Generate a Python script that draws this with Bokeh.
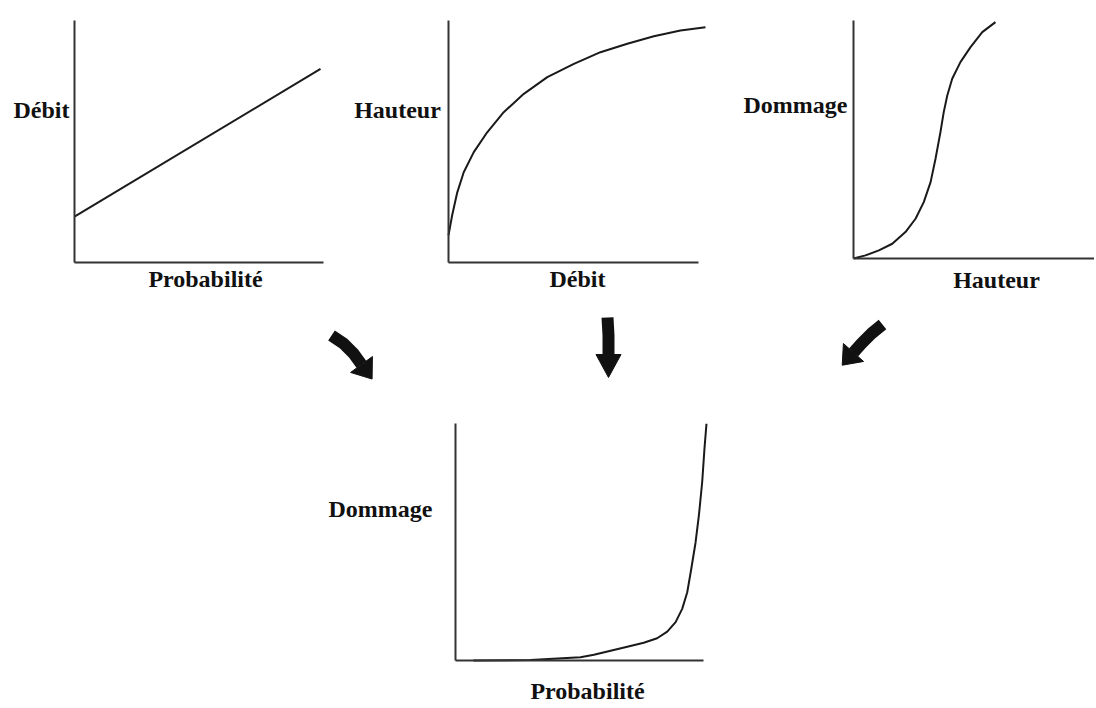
import math
from bokeh.plotting import figure
from bokeh.models import Range1d, FixedTicker
from bokeh.core.properties import value
from bokeh.layouts import column, row
from bokeh.embed import file_html
from bokeh.resources import INLINE

# ---------------- data (schematic curves, arbitrary units 0..1) ----------------
# Panel 1 : Débit vs Probabilité (straight line)
prob_1 = [0.0, 0.988]
debit_1 = [0.19, 0.80]

# Panel 2 : Hauteur vs Débit (concave rating curve)
debit_2 = [0.0, 0.014, 0.034, 0.059, 0.098, 0.150, 0.214, 0.292, 0.383, 0.486,
           0.589, 0.693, 0.796, 0.899, 0.996]
hauteur_2 = [0.112, 0.194, 0.290, 0.373, 0.456, 0.538, 0.621, 0.697, 0.766, 0.821,
             0.869, 0.904, 0.935, 0.959, 0.972]

# Panel 3 : Dommage vs Hauteur (S-curve)
hauteur_3 = [0.0, 0.051, 0.108, 0.165, 0.221, 0.264, 0.299, 0.328, 0.349, 0.370,
             0.384, 0.399, 0.420, 0.455, 0.498, 0.548, 0.604]
dommage_3 = [0.0, 0.013, 0.034, 0.062, 0.111, 0.167, 0.237, 0.321, 0.419, 0.531,
             0.615, 0.685, 0.755, 0.825, 0.888, 0.951, 0.993]

# Panel 4 : Dommage vs Probabilité (result)
prob_4 = [0.071, 0.296, 0.494, 0.547, 0.613, 0.679, 0.744, 0.797, 0.837, 0.870,
          0.896, 0.916, 0.932, 0.949, 0.962, 0.975, 0.984, 0.992]
dommage_4 = [0.0, 0.002, 0.014, 0.024, 0.041, 0.058, 0.075, 0.094, 0.122, 0.162,
             0.218, 0.288, 0.387, 0.499, 0.612, 0.752, 0.893, 0.999]

# axis titles (x title, y title)
labels_1 = ("Probabilité", "Débit")
labels_2 = ("Débit", "Hauteur")
labels_3 = ("Hauteur", "Dommage")
labels_4 = ("Probabilité", "Dommage")

# ---------------- styling ----------------
INK = "#1a1a1a"
AXIS = "#333333"
FONT = "Liberation Serif"


def panel(box, frame, xs, ys, xbound, titles, title_pos):
    """box: (left, top, width, height) of the figure on the page;
    frame: (left, bottom, width, height) of the axes box on the page."""
    ox, oy, W, H = box
    fl, fb, fw, fh = frame
    xr = Range1d((ox - fl) / fw, (ox + W - fl) / fw)
    yr = Range1d((fb - (oy + H)) / fh, (fb - oy) / fh)
    p = figure(width=W, height=H, x_range=xr, y_range=yr,
               output_backend="svg", toolbar_location=None, min_border=0)
    p.grid.visible = False
    p.outline_line_color = None
    p.background_fill_color = "white"
    p.border_fill_color = "white"
    for ax in p.axis:
        ax.fixed_location = 0
        ax.ticker = FixedTicker(ticks=[])
        ax.major_tick_line_color = None
        ax.minor_tick_line_color = None
        ax.major_tick_out = 0
        ax.major_label_text_font_size = "0px"
        ax.axis_line_color = AXIS
        ax.axis_line_width = 2
    p.xaxis.bounds = (0, xbound)
    p.yaxis.bounds = (0, 1)
    p.line(xs, ys, line_color=INK, line_width=2, line_join="round")
    tx = [(px - fl) / fw for px, _ in title_pos]
    ty = [(fb - py) / fh for _, py in title_pos]
    p.text(x=tx, y=ty, text=list(titles), text_font=value(FONT),
           text_font_style="bold", text_font_size="24px", text_color="#111111",
           text_align="center", text_baseline="alphabetic")
    return p


p1 = panel((0, 0, 340, 300), (74, 262, 249, 242), prob_1, debit_1, 1.0,
           labels_1, [(205, 278), (41, 109)])
p2 = panel((340, 0, 380, 300), (448, 262, 258, 242), debit_2, hauteur_2, 0.97,
           labels_2, [(577, 278), (397, 109)])
p3 = panel((720, 0, 374, 300), (853, 258, 235, 238), hauteur_3, dommage_3, 1.03,
           labels_3, [(996, 279), (795, 104)])
p4 = panel((0, 400, 1094, 306), (455, 660, 253, 237), prob_4, dommage_4, 0.98,
           labels_4, [(587, 690), (380, 508)])

# ---------------- connecting arrows ----------------
arr = figure(width=1094, height=100, x_range=Range1d(0, 1094), y_range=Range1d(400, 300),
             output_backend="svg", toolbar_location=None,
             x_axis_location=None, y_axis_location=None, min_border=0)
arr.grid.visible = False
arr.outline_line_color = None

arrow_bodies = [
    ([331, 343, 353, 361], [335, 343, 353, 364], 18, 27),
    ([607, 608, 608], [317, 335, 354], 23, 25),
    ([882, 871, 861, 853], [324, 333, 343, 352], 17, 27),
]
for xs, ys, hl, hw in arrow_bodies:
    arr.line(xs, ys, line_width=12, line_color="#111111", line_join="round")
    dx, dy = xs[-1] - xs[-2], ys[-1] - ys[-2]
    n = math.hypot(dx, dy)
    ux, uy = dx / n, dy / n
    qx, qy = -uy, ux
    bx, by = xs[-1], ys[-1]
    arr.patch([bx + qx * hw / 2, bx - qx * hw / 2, bx + ux * hl],
              [by + qy * hw / 2, by - qy * hw / 2, by + uy * hl],
              fill_color="#111111", line_color="#111111", line_width=1)

layout = column(row(p1, p2, p3), arr, p4)
open("out.html", "w").write(file_html(layout, INLINE))
